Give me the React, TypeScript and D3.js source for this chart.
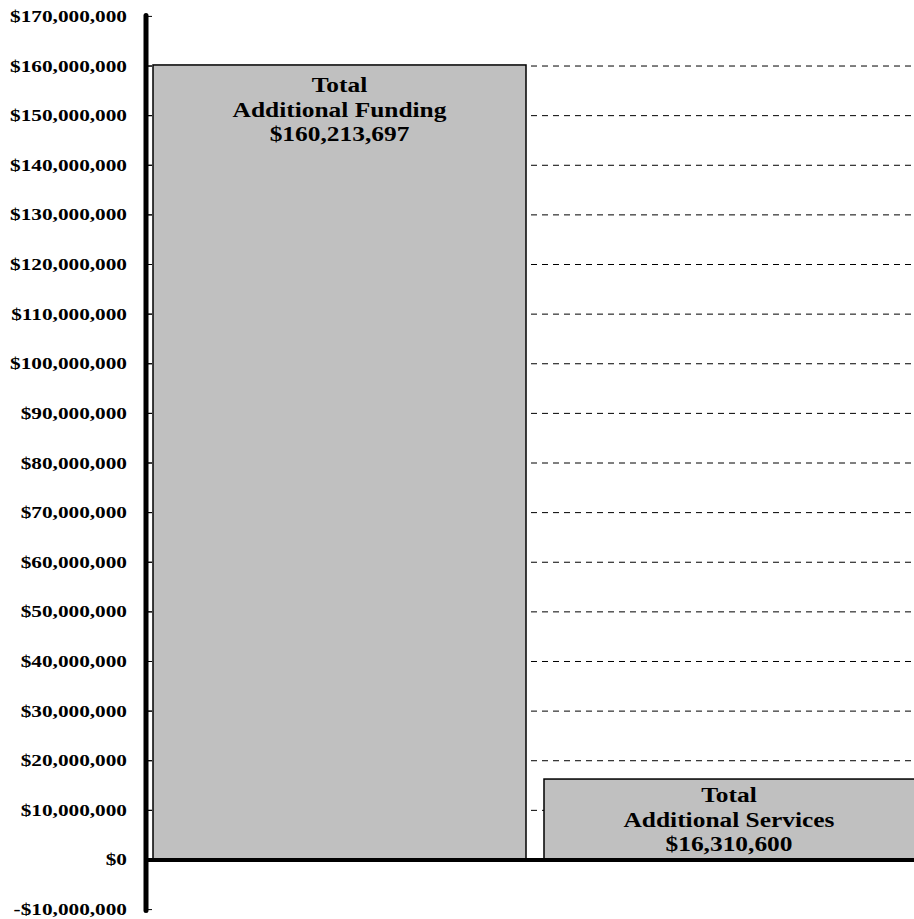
import React from "react";
import * as d3 from "d3";

const categories = ["Total Additional Funding", "Total Additional Services"];
const labelLines = [
  ["Total", "Additional Funding", "$160,213,697"],
  ["Total", "Additional Services", "$16,310,600"],
];
const values = [160213697, 16310600];
const tickValues = d3.range(-10000000, 170000001, 10000000);
const gridValues = d3.range(10000000, 160000001, 10000000);

const W = 914;
const H = 919;

export default function App() {
  const y = d3.scaleLinear().domain([-10000000, 170000000]).range([909.6, 16.4]);
  const x = d3.scaleBand().domain(categories).range([153, 917]).paddingInner(0.046).paddingOuter(0);
  const axisX = 146;
  const fmt = (v: number) => (v < 0 ? "-" : "") + "$" + d3.format(",")(Math.abs(v));
  const font = "'Liberation Serif', 'Times New Roman', serif";
  const labelOffset = [27.5, 23];
  return (
    <svg width={W} height={H} style={{ position: "absolute", left: 0, top: 0, background: "#fff" }}>
      {gridValues.map((t) => (
        <line key={"g" + t} x1={axisX} x2={W} y1={y(t)} y2={y(t)} stroke="#000" strokeWidth={1} strokeDasharray="6,5" />
      ))}
      {values.map((v, i) => (
        <rect key={"b" + i} x={x(categories[i])!} y={y(v)} width={x.bandwidth()} height={y(0) - y(v)}
          fill="#c0c0c0" stroke="#000" strokeWidth={1.5} />
      ))}
      {values.map((v, i) => {
        const cx = Math.min(x(categories[i])! + x.bandwidth() / 2, 729);
        return (
          <g key={"l" + i} transform={`translate(${cx},${y(v) + labelOffset[i]}) scale(1.27,1)`}>
            <text textAnchor="middle" fontFamily={font} fontWeight="bold" fontSize={20}>
              {labelLines[i].map((s, j) => (
                <tspan key={j} x={0} dy={j === 0 ? 0 : 24.5}>{s}</tspan>
              ))}
            </text>
          </g>
        );
      })}
      <line x1={axisX} x2={W} y1={y(0)} y2={y(0)} stroke="#000" strokeWidth={4} />
      {tickValues.map((t) => (
        <line key={"t" + t} x1={axisX} x2={152} y1={y(t)} y2={y(t)} stroke="#000" strokeWidth={1} />
      ))}
      <line x1={axisX} x2={axisX} y1={y(170000000) - 1} y2={y(-10000000) + 1} stroke="#000" strokeWidth={5} strokeLinecap="round" />
      {tickValues.map((t) => (
        <g key={"tl" + t} transform={`translate(127,${y(t) + 5.5}) scale(1.33,1)`}>
          <text textAnchor="end" fontFamily={font} fontWeight="bold" fontSize={16}>
            {fmt(t)}
          </text>
        </g>
      ))}
    </svg>
  );
}
